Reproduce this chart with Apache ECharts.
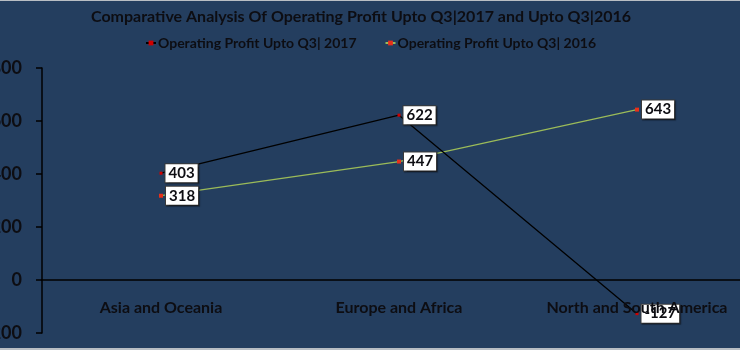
<!DOCTYPE html>
<html>
<head>
<meta charset="utf-8">
<script src="https://cdn.jsdelivr.net/npm/echarts@6/dist/echarts.min.js"></script>
<style>
  html, body { margin: 0; padding: 0; background: #b9bec4; }
  #chart { position: absolute; left: 0; top: 1px; width: 740px; height: 347px; }
</style>
</head>
<body>
<div id="chart"></div>
<script>
// Operating profit by region, cumulative to Q3
const regions = ['Asia and Oceania', 'Europe and Africa', 'North and South America'];
const profit2017 = [403, 622, -127];
const profit2016 = [318, 447, 643];
const seriesNames = ['Operating Profit Upto Q3| 2017', 'Operating Profit Upto Q3| 2016'];
const yTicks = { min: -200, max: 800, step: 200 };

const font = 'Lato, "Open Sans", sans-serif';
const ink = '#0d0d12';

const valueLabel = {
  show: true,
  position: 'right',
  distance: 3,
  color: ink,
  fontFamily: font,
  fontWeight: 'bold',
  fontSize: 15,
  backgroundColor: '#ffffff',
  borderColor: '#3a3a3a',
  borderWidth: 1,
  padding: [2, 3, 1, 3],
  shadowColor: 'rgba(0,0,0,0.4)',
  shadowOffsetX: 1,
  shadowOffsetY: 1,
  shadowBlur: 1
};

const chart = echarts.init(document.getElementById('chart'), null, { renderer: 'canvas' });
chart.setOption({
  backgroundColor: '#243e5f',
  animation: false,
  title: {
    text: 'Comparative Analysis Of Operating Profit Upto Q3|2017 and Upto Q3|2016',
    left: 86,
    top: 3,
    textStyle: { color: ink, fontFamily: font, fontWeight: 'bold', fontSize: 16 }
  },
  legend: {
    top: 30,
    left: 140,
    itemGap: 28,
    itemWidth: 10,
    itemHeight: 6,
    textStyle: { color: ink, fontFamily: font, fontWeight: 'bold', fontSize: 14, padding: [0, 0, 0, -3] }
  },
  grid: { left: 42, top: 67, width: 714, height: 265, outerBoundsMode: 'none', containLabel: false },
  xAxis: {
    type: 'category',
    data: regions,
    boundaryGap: true,
    z: 10,
    axisLine: { onZero: true, lineStyle: { color: '#000', width: 1.5 } },
    axisTick: { show: false },
    axisLabel: {
      margin: -33,
      color: ink,
      fontFamily: font,
      fontWeight: 'bold',
      fontSize: 16,
      interval: 0,
      hideOverlap: false
    },
    splitLine: { show: false }
  },
  yAxis: {
    type: 'value',
    min: yTicks.min,
    max: yTicks.max,
    interval: yTicks.step,
    axisLine: { show: true, lineStyle: { color: '#000', width: 1.5 } },
    axisTick: { show: true, inside: false, length: 6, lineStyle: { color: '#000', width: 1.5 } },
    axisLabel: {
      margin: 20,
      color: ink,
      fontFamily: font,
      fontWeight: 'bold',
      fontSize: 18
    },
    splitLine: { show: false }
  },
  series: [
    {
      name: seriesNames[0],
      type: 'line',
      data: profit2017,
      symbol: 'rect',
      symbolSize: 3,
      itemStyle: { color: '#d00000' },
      lineStyle: { color: '#000000', width: 1.3 },
      label: valueLabel,
      z: 3
    },
    {
      name: seriesNames[1],
      type: 'line',
      data: profit2016,
      symbol: 'rect',
      symbolSize: 4,
      itemStyle: { color: '#e8301a' },
      lineStyle: { color: '#9bbb59', width: 1.3 },
      label: valueLabel,
      z: 2
    }
  ]
});
</script>
</body>
</html>
